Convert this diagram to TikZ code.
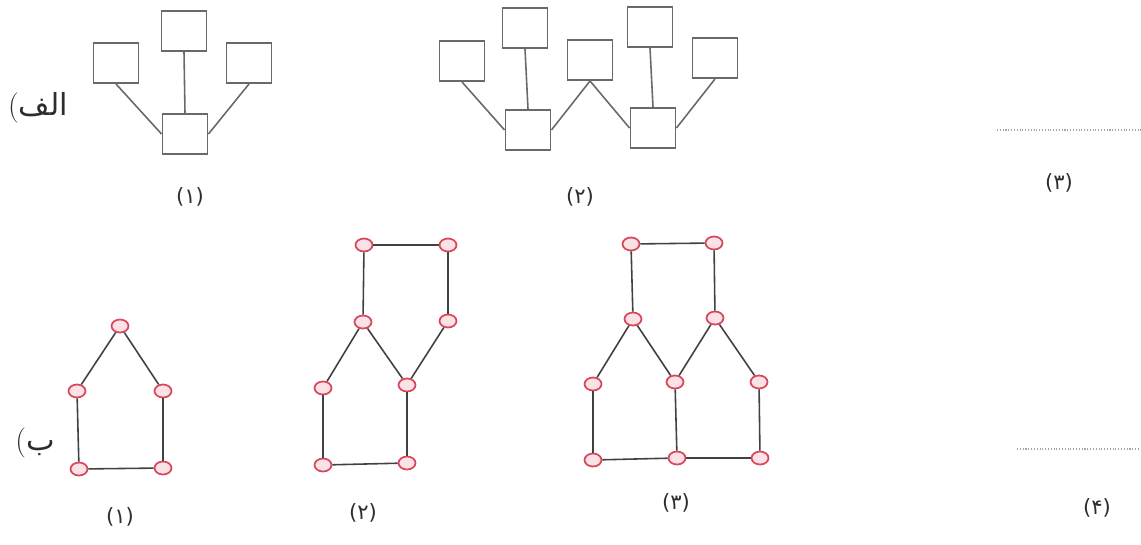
\documentclass[tikz,border=0pt]{standalone}
\usepackage{fontspec}
\usetikzlibrary{shapes.geometric}
\newfontfamily\arabicfont[Script=Arabic]{DejaVu Sans}
\TeXXeTstate=1
\definecolor{boxgray}{RGB}{105,105,105}
\definecolor{edgegray}{RGB}{65,65,65}
\definecolor{vertred}{RGB}{214,72,92}
\definecolor{vertfill}{RGB}{252,226,230}
\definecolor{labelgray}{RGB}{45,45,45}

\begin{document}
\begin{tikzpicture}[x=0.02cm, y=-0.02cm,
  box/.style={draw=boxgray, line width=1.1pt, minimum width=0.9cm, minimum height=0.8cm, inner sep=0pt},
  vert/.style={ellipse, draw=vertred, fill=vertfill, line width=1pt, minimum width=0.34cm, minimum height=0.26cm, inner sep=0pt},
  link/.style={boxgray, line width=0.9pt},
  edge/.style={edgegray, line width=0.9pt},
  num/.style={font=\arabicfont\large, text=labelgray},
  part/.style={font=\LARGE, text=labelgray},
  blank/.style={densely dotted, black!35, line width=0.6pt}
]
\useasboundingbox (0,0) rectangle (1141,544);

% ================= ROW ALEF =================
\node[part] (alef) at (38,108) {(\hbox{\arabicfont\beginR الف\endR}};

% --- tree (1) ---
\node[box] (t1l) at (116,63) {};
\node[box] (t1m) at (184,31) {};
\node[box] (t1r) at (249,63) {};
\node[box] (t1c) at (185,134) {};
\draw[link] (t1l.south) -- (t1c.west);
\draw[link] (t1m.south) -- (t1c.north);
\draw[link] (t1r.south) -- (t1c.east);
\node[num] (n1a) at (190,197) {(۱)};

% --- tree (2) ---
\node[box] (t2a) at (462,61) {};
\node[box] (t2b) at (525,28) {};
\node[box] (t2c) at (590,60) {};
\node[box] (t2d) at (650,27) {};
\node[box] (t2e) at (715,58) {};
\node[box] (t2f) at (528,130) {};
\node[box] (t2g) at (653,128) {};
\draw[link] (t2a.south) -- (t2f.west);
\draw[link] (t2b.south) -- (t2f.north);
\draw[link] (t2f.east) -- (t2c.south);
\draw[link] (t2c.south) -- (t2g.west);
\draw[link] (t2d.south) -- (t2g.north);
\draw[link] (t2g.east) -- (t2e.south);
\node[num] (n2a) at (580,197) {(۲)};

% --- blank (3) ---
\draw[blank] (997,130) -- (1141,130);
\node[num] (n3a) at (1059,183) {(۳)};

% ================= ROW BE =================
\node[part] (be) at (35,443) {(\hbox{\arabicfont\beginR ب\endR}};

% --- graph (1) ---
\node[vert] (p1) at (120,326) {};
\node[vert] (p2) at (77,391) {};
\node[vert] (p3) at (163,391) {};
\node[vert] (p4) at (79,469) {};
\node[vert] (p5) at (163,468) {};
\foreach \u/\v in {p1/p2, p1/p3, p2/p4, p3/p5, p4/p5}
  \draw[edge] (\u) -- (\v);
\node[num] (n1b) at (120,517) {(۱)};

% --- graph (2) ---
\node[vert] (q1) at (364,245) {};
\node[vert] (q2) at (448,245) {};
\node[vert] (q3) at (363,322) {};
\node[vert] (q4) at (448,321) {};
\node[vert] (q5) at (323,388) {};
\node[vert] (q6) at (407,385) {};
\node[vert] (q7) at (323,465) {};
\node[vert] (q8) at (407,463) {};
\foreach \u/\v in {q1/q2, q1/q3, q2/q4, q3/q5, q3/q6, q4/q6, q5/q7, q6/q8, q7/q8}
  \draw[edge] (\u) -- (\v);
\node[num] (n2b) at (363,513) {(۲)};

% --- graph (3) ---
\node[vert] (r1) at (631,244) {};
\node[vert] (r2) at (714,243) {};
\node[vert] (r3) at (633,319) {};
\node[vert] (r4) at (715,318) {};
\node[vert] (r5) at (593,384) {};
\node[vert] (r6) at (675,382) {};
\node[vert] (r7) at (759,382) {};
\node[vert] (r8) at (593,460) {};
\node[vert] (r9) at (677,458) {};
\node[vert] (r10) at (760,458) {};
\foreach \u/\v in {r1/r2, r1/r3, r2/r4, r3/r5, r3/r6, r4/r6, r4/r7, r5/r8, r6/r9, r7/r10, r8/r9, r9/r10}
  \draw[edge] (\u) -- (\v);
\node[num] (n3b) at (676,503) {(۳)};

% --- blank (4) ---
\draw[blank] (1017,449) -- (1141,449);
\node[num] (n4b) at (1097,508) {(۴)};
\end{tikzpicture}
\end{document}
